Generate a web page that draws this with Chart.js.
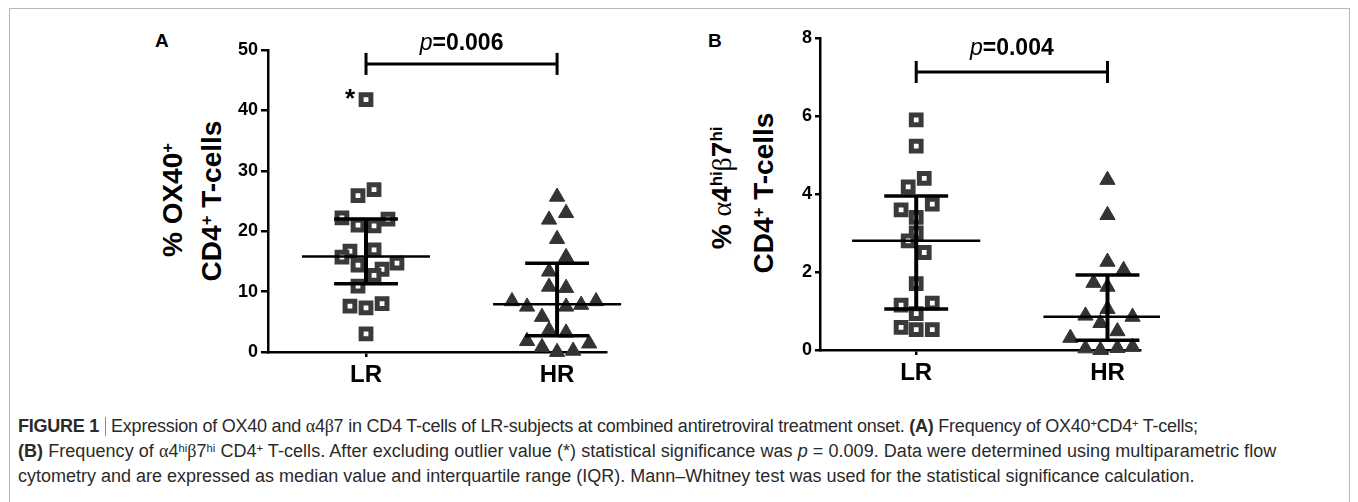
<!DOCTYPE html>
<html><head><meta charset="utf-8">
<script src="https://cdn.jsdelivr.net/npm/chart.js@4.4.0/dist/chart.umd.min.js"></script>
<style>
html,body{margin:0;padding:0;background:#fff;width:1358px;height:502px;overflow:hidden;font-family:"Liberation Sans",Arial,sans-serif;}
#frame{position:absolute;left:9px;top:8px;width:1341px;height:530px;border:1.5px solid #b8b8b8;box-sizing:border-box;}
.cv{position:absolute;}
.ylab{position:absolute;white-space:nowrap;font-weight:bold;font-size:28px;color:#000;line-height:1;transform:translate(-50%,-50%) rotate(-90deg);}
.sup{font-size:0.6em;position:relative;top:-0.55em;}
.greek{font-family:"Liberation Serif","DejaVu Serif",serif;font-weight:normal;}
.panel{position:absolute;font-weight:bold;font-size:19px;line-height:1;color:#000;}
#caption{position:absolute;left:18px;top:414px;font-size:18px;line-height:25px;color:#2a2a2a;white-space:nowrap;}
#caption sup{font-size:0.62em;line-height:0;vertical-align:0.45em;}
.sep{display:inline-block;width:1px;height:19px;background:#8a8a8a;vertical-align:-4px;margin:0 5px 0 6px;}
</style></head>
<body>
<div id="frame"></div>
<div class="panel" style="left:155px;top:31px;">A</div>
<div class="panel" style="left:708px;top:31px;">B</div>
<div class="ylab" style="left:173px;top:200px;">% OX40<span class="sup">+</span></div>
<div class="ylab" style="left:212px;top:201px;">CD4<span class="sup">+</span> T-cells</div>
<div class="ylab" style="left:722px;top:188px;">% <span class="greek">α</span>4<span class="sup">hi</span><span class="greek">β</span>7<span class="sup">hi</span></div>
<div class="ylab" style="left:764px;top:193px;">CD4<span class="sup">+</span> T-cells</div>
<canvas id="cA" class="cv" width="430" height="390" style="left:200px;top:10px;width:430px;height:390px;"></canvas>
<canvas id="cB" class="cv" width="408" height="390" style="left:752px;top:10px;width:408px;height:390px;"></canvas>
<div id="caption"><span style="letter-spacing:-0.24px"><b>FIGURE 1</b><span class="sep"></span>Expression of OX40 and <span class="greek">α</span>4<span class="greek">β</span>7 in CD4 T-cells of LR-subjects at combined antiretroviral treatment onset. <b>(A)</b> Frequency of OX40<sup>+</sup>CD4<sup>+</sup> T-cells;</span><br><span style="letter-spacing:0.05px"><b>(B)</b> Frequency of <span class="greek">α</span>4<sup>hi</sup><span class="greek">β</span>7<sup>hi</sup> CD4<sup>+</sup> T-cells. After excluding outlier value (*) statistical significance was <i>p</i> = 0.009. Data were determined using multiparametric flow</span><br>cytometry and are expressed as median value and interquartile range (IQR). Mann–Whitney test was used for the statistical significance calculation.</div>
<script>
const categories = ['LR', 'HR'];

// Panel A: % OX40+ CD4+ T-cells
const ox40LR = [41.8, 26.9, 25.9, 22.2, 22.0, 21.0, 20.9, 16.7, 16.9, 15.7, 14.4, 14.7, 13.7, 12.7, 10.9, 7.6, 7.3, 8.0, 3.0];
const ox40LRJitter = [0, .042, -.042, -.126, .115, -.042, .042, -.084, .042, -.126, -.042, .162, .084, .042, -.042, -.084, 0, .084, 0];
const ox40HR = [25.7, 23.0, 21.9, 18.7, 15.7, 13.3, 10.8, 10.6, 8.4, 8.4, 7.5, 7.5, 7.8, 5.8, 3.6, 3.2, 1.8, 0.8, 1.4, 0.0, 0.2];
const ox40HRJitter = [0, .047, -.042, 0, .047, -.042, -.042, .047, -.236, .204, -.157, .047, .126, -.079, -.042, .047, -.157, -.079, .168, 0, .084];
const ox40Median = [15.8, 7.9];
const ox40Q1 = [11.3, 2.7];
const ox40Q3 = [22.0, 14.7];
const ox40Ticks = [0, 10, 20, 30, 40, 50];
const ox40PValue = '0.006';
const ox40SigLevel = 47.7;
const ox40OutlierIndex = 0;

// Panel B: % a4hi b7hi CD4+ T-cells
const a4b7LR = [5.9, 5.23, 4.4, 4.18, 3.74, 3.59, 3.4, 3.0, 2.8, 2.5, 1.7, 1.2, 1.15, 0.93, 0.58, 0.52, 0.52];
const a4b7LRJitter = [0, 0, .042, -.042, .084, -.079, 0, 0, -.042, .042, 0, .084, -.079, 0, -.079, 0, .084];
const a4b7HR = [4.36, 3.46, 2.26, 2.05, 1.72, 1.62, 1.05, 0.88, 0.85, 0.69, 0.48, 0.31, 0.04, 0.0, 0.05, 0.08];
const a4b7HRJitter = [0, 0, 0, .084, -.073, 0, 0, -.115, .131, -.037, .052, -.194, -.115, -.037, .052, .131];
const a4b7Median = [2.8, 0.85];
const a4b7Q1 = [1.05, 0.25];
const a4b7Q3 = [3.95, 1.92];
const a4b7Ticks = [0, 2, 4, 6, 8];
const a4b7PValue = '0.004';
const a4b7SigLevel = 7.13;

const FONT = '"Liberation Sans", Arial, sans-serif';

const overlay = {
  id: 'overlay',
  afterDatasetsDraw(chart, args, o) {
    const ctx = chart.ctx, xs = chart.scales.x, ys = chart.scales.y;
    const line = (a, b, c, d) => { ctx.beginPath(); ctx.moveTo(a, b); ctx.lineTo(c, d); ctx.stroke(); };
    ctx.save();
    ctx.strokeStyle = '#000';
    o.median.forEach((m, i) => {
      const cx = xs.getPixelForValue(i + 1);
      const hm = xs.getPixelForValue(i + 1 + o.medianHalf) - cx;
      const hq = xs.getPixelForValue(i + 1 + o.capHalf) - cx;
      const ym = ys.getPixelForValue(m), y1 = ys.getPixelForValue(o.q1[i]), y3 = ys.getPixelForValue(o.q3[i]);
      ctx.lineWidth = 4; line(cx, y1, cx, y3);
      ctx.lineWidth = 3.5; line(cx - hq, y1, cx + hq, y1); line(cx - hq, y3, cx + hq, y3);
      ctx.lineWidth = 2.5; line(cx - hm, ym, cx + hm, ym);
    });
    const xa = xs.getPixelForValue(1), xb = xs.getPixelForValue(2), yb = ys.getPixelForValue(o.sigY);
    ctx.lineWidth = 3;
    line(xa, yb, xb, yb); line(xa, yb - 11, xa, yb + 11); line(xb, yb - 11, xb, yb + 11);
    ctx.fillStyle = '#000';
    ctx.textBaseline = 'alphabetic';
    ctx.font = 'italic 23px ' + FONT;
    const w1 = ctx.measureText('p').width;
    ctx.font = 'bold 23px ' + FONT;
    const s2 = '=' + o.p;
    const w2 = ctx.measureText(s2).width;
    const x0 = (xa + xb) / 2 - (w1 + w2) / 2, ty = yb - o.textGap;
    ctx.font = 'italic 23px ' + FONT; ctx.textAlign = 'left'; ctx.fillText('p', x0, ty);
    ctx.font = 'bold 23px ' + FONT; ctx.fillText(s2, x0 + w1, ty);
    if (o.outlier !== undefined) {
      const pt = chart.getDatasetMeta(0).data[o.outlier];
      ctx.font = 'bold 26px ' + FONT; ctx.textAlign = 'right';
      ctx.fillText('*', pt.x - 11, pt.y + 7);
    }
    ctx.restore();
  }
};

function makeChart(id, lr, lrJ, hr, hrJ, stats, yTicks, xRange, yAxisW, xAxisH, pad, tickLen) {
  const lrPts = lr.map((v, i) => ({x: 1 + lrJ[i], y: v}));
  const hrPts = hr.map((v, i) => ({x: 2 + hrJ[i], y: v}));
  return new Chart(document.getElementById(id), {
    type: 'scatter',
    data: {datasets: [
      {data: lrPts, pointStyle: 'rect', pointRadius: 6.9, pointBackgroundColor: '#fff', pointBorderColor: '#3a3a3a', pointBorderWidth: 5, clip: false},
      {data: hrPts, pointStyle: 'triangle', pointRadius: 8.8, pointBackgroundColor: '#333', pointBorderColor: '#333', pointBorderWidth: 1, clip: false},
      {data: hrPts, pointStyle: 'circle', pointRadius: 1, pointBackgroundColor: '#fff', pointBorderWidth: 0, clip: false}
    ]},
    options: {
      responsive: false, animation: false, events: [], devicePixelRatio: 1,
      layout: {padding: pad},
      plugins: {legend: {display: false}, tooltip: {enabled: false}, overlay: stats},
      scales: {
        x: {type: 'linear', min: xRange[0], max: xRange[1],
          afterBuildTicks: s => { s.ticks = categories.map((c, i) => ({value: i + 1})); },
          afterFit: s => { s.height = xAxisH; },
          border: {display: true, color: '#000', width: 2.5},
          grid: {drawOnChartArea: false, drawTicks: true, tickLength: 5, color: '#000', lineWidth: 2.5},
          ticks: {callback: (v, i) => categories[i], color: '#000', font: {family: FONT, size: 24, weight: 'bold'}, padding: 4, maxRotation: 0}
        },
        y: {type: 'linear', min: yTicks[0], max: yTicks[yTicks.length - 1],
          afterBuildTicks: s => { s.ticks = yTicks.map(v => ({value: v})); },
          afterFit: s => { s.width = yAxisW; },
          border: {display: true, color: '#000', width: 2.5},
          grid: {drawOnChartArea: false, drawTicks: true, tickLength: tickLen, color: '#000', lineWidth: 2.5},
          ticks: {color: '#000', font: {family: FONT, size: 18, weight: 'bold'}, padding: 3}
        }
      }
    },
    plugins: [overlay]
  });
}

makeChart('cA', ox40LR, ox40LRJitter, ox40HR, ox40HRJitter,
  {median: ox40Median, q1: ox40Q1, q3: ox40Q3, medianHalf: 0.335, capHalf: 0.167, sigY: ox40SigLevel, p: ox40PValue, textGap: 14, outlier: ox40OutlierIndex},
  ox40Ticks, [0.487, 2.256], 68, 48, {top: 40, right: 24, left: 0, bottom: 0}, 7);

makeChart('cB', a4b7LR, a4b7LRJitter, a4b7HR, a4b7HRJitter,
  {median: a4b7Median, q1: a4b7Q1, q3: a4b7Q3, medianHalf: 0.335, capHalf: 0.167, sigY: a4b7SigLevel, p: a4b7PValue, textGap: 17},
  a4b7Ticks, [0.497, 2.17], 68, 50, {top: 28, right: 20, left: 0, bottom: 0}, 5);
</script>
</body></html>
